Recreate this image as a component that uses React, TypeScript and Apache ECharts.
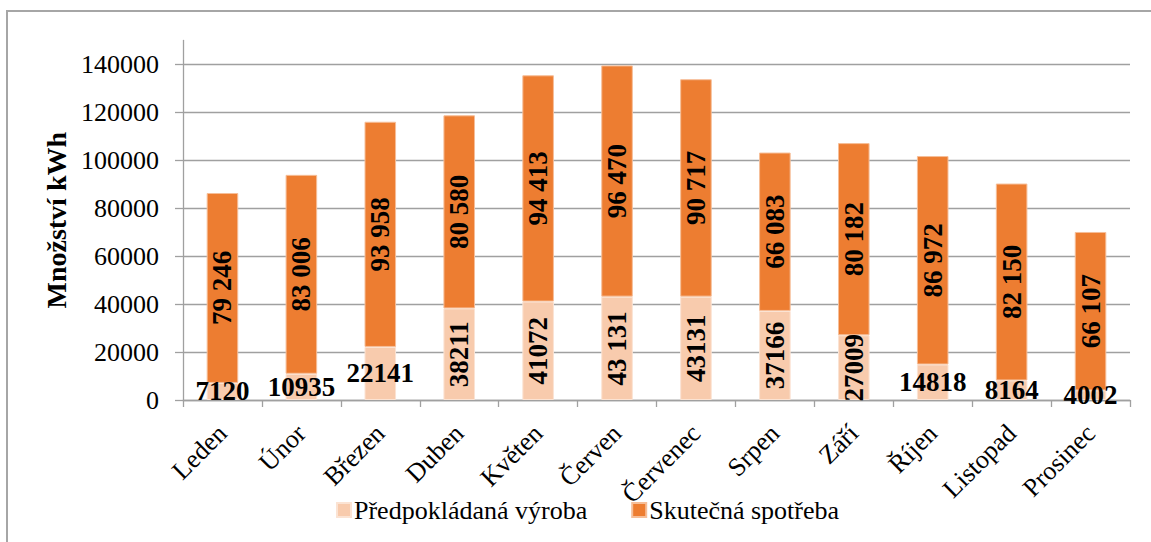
import React, { useEffect, useRef } from "react";
import * as echarts from "echarts";

const months = ["Leden", "Únor", "Březen", "Duben", "Květen", "Červen", "Červenec", "Srpen", "Září", "Říjen", "Listopad", "Prosinec"];
const production = [7120, 10935, 22141, 38211, 41072, 43131, 43131, 37166, 27009, 14818, 8164, 4002];
const productionLabels = ["7120", "10935", "22141", "38211", "41072", "43 131", "43131", "37166", "27009", "14818", "8164", "4002"];
const consumption = [79246, 83006, 93958, 80580, 94413, 96470, 90717, 66083, 80182, 86972, 82150, 66107];
const seriesNames = ["Předpokládaná výroba", "Skutečná spotřeba"];
const yAxisName = "Množství kWh";

const withSpace = (n: number) => String(n).replace(/\B(?=(\d{3})+(?!\d))/g, " ");

const FONT = "'Liberation Serif', 'Times New Roman', serif";

export default function App() {
  const ref = useRef<HTMLDivElement>(null);
  useEffect(() => {
    if (!ref.current) return;
    const chart = echarts.init(ref.current, undefined, { renderer: "svg" });
    const labelBase = {
      show: true,
      position: "inside" as const,
      color: "#000",
      fontFamily: FONT,
      fontWeight: "bold" as const,
      fontSize: 27,
    };
    chart.setOption({
      animation: false,
      textStyle: { fontFamily: FONT },
      grid: { left: 183, right: 21, top: 40.5, bottom: 142, containLabel: false },
      legend: {
        left: 331,
        top: 492,
        itemWidth: 14,
        itemHeight: 14,
        itemGap: 44,
        icon: "rect",
        textStyle: { fontFamily: FONT, fontSize: 26, color: "#000", padding: [0, 0, 0, -2] },
        data: seriesNames,
      },
      xAxis: {
        type: "category",
        data: months,
        axisLine: { lineStyle: { color: "#a0a0a0", width: 1.3 } },
        axisTick: { show: true, length: 7, lineStyle: { color: "#a0a0a0", width: 1.3 } },
        axisLabel: {
          rotate: 45,
          interval: 0,
          margin: 29,
          color: "#000",
          fontFamily: FONT,
          fontSize: 26,
        },
      },
      yAxis: {
        type: "value",
        min: 0,
        max: 150000,
        interval: 20000,
        name: yAxisName,
        nameLocation: "middle",
        nameGap: 113,
        nameTextStyle: { fontFamily: FONT, fontSize: 28, fontWeight: "bold", color: "#000" },
        axisLine: { show: true, lineStyle: { color: "#a0a0a0", width: 1.3 } },
        axisTick: { show: true, length: 8, lineStyle: { color: "#a0a0a0", width: 1.3 } },
        axisLabel: {
          showMaxLabel: false,
          margin: 24,
          color: "#000",
          fontFamily: FONT,
          fontSize: 26,
          formatter: (v: number) => String(v),
        },
        splitLine: { show: true, showMaxLine: false, lineStyle: { color: "#a0a0a0", width: 1.3 } },
      },
      series: [
        {
          name: seriesNames[0],
          type: "bar",
          stack: "total",
          barWidth: "40%",
          itemStyle: { color: "#F8CBAD", borderColor: "#FBE3D3", borderWidth: 1 },
          data: production.map((v, i) => ({
            value: v,
            label: { ...labelBase, rotate: v > 25000 ? 90 : 0, formatter: productionLabels[i] },
          })),
        },
        {
          name: seriesNames[1],
          type: "bar",
          stack: "total",
          barWidth: "40%",
          itemStyle: { color: "#ED7D31", borderColor: "#F6BE98", borderWidth: 1 },
          label: { ...labelBase, rotate: 90, formatter: (p: any) => withSpace(p.value) },
          data: consumption,
        },
      ],
    });
    return () => chart.dispose();
  }, []);
  return (
    <div style={{ position: "fixed", left: 0, top: 0, width: 1151, height: 542, background: "#fff", overflow: "hidden" }}>
      <div
        style={{
          position: "absolute",
          left: 6,
          top: 10,
          width: 1200,
          height: 600,
          borderLeft: "2px solid #a6a6a6",
          borderTop: "2px solid #a6a6a6",
        }}
      />
      <div ref={ref} style={{ position: "absolute", left: 0, top: 0, width: 1151, height: 542 }} />
    </div>
  );
}
